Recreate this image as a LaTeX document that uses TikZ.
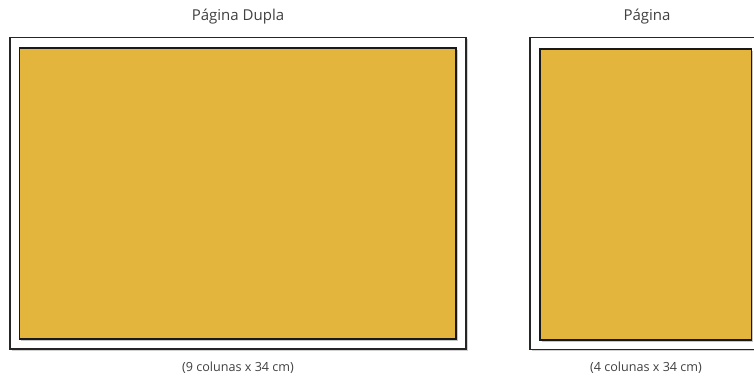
\documentclass[tikz,border=0pt]{standalone}
\usepackage{fontspec}
\setmainfont{Open Sans}
\definecolor{pageyellow}{RGB}{227,181,61}
\definecolor{labelgray}{RGB}{64,64,64}
\begin{document}
\begin{tikzpicture}[x=1pt,y=-1pt,
  outerbox/.style={draw=black!85,line width=1.3pt,fill=white},
  innerbox/.style={draw=black!90,line width=1.2pt,fill=pageyellow},
  title/.style={text=labelgray,font=\fontsize{15}{17}\selectfont,inner sep=0pt},
  caption/.style={text=labelgray,font=\fontsize{12.6}{14}\selectfont,inner sep=0pt}]
\useasboundingbox (0,0) rectangle (754,378);
\clip (0,0) rectangle (754,378);
% shadows
\fill[black!18] (11.5,39) rectangle (467.5,350.5);
\fill[black!18] (531.5,39) rectangle (790,351);
% left double page
\draw[outerbox] (10,37.5) rectangle (466,349);
\fill[black!22] (21,49.5) rectangle (457.5,340.5);
\draw[innerbox] (19.5,48) rectangle (456,339);
% right single page
\draw[outerbox] (530,37.5) rectangle (790,349.5);
\fill[black!22] (541.5,50.5) rectangle (753,341.5);
\draw[innerbox] (540,49) rectangle (751.5,340);
% labels
\node[title] (t1) at (238,17) {Página Dupla};
\node[title] (t2) at (647,17) {Página};
\node[caption] (c1) at (238,368) {(9 colunas x 34 cm)};
\node[caption] (c2) at (646,368) {(4 colunas x 34 cm)};
\end{tikzpicture}
\end{document}
